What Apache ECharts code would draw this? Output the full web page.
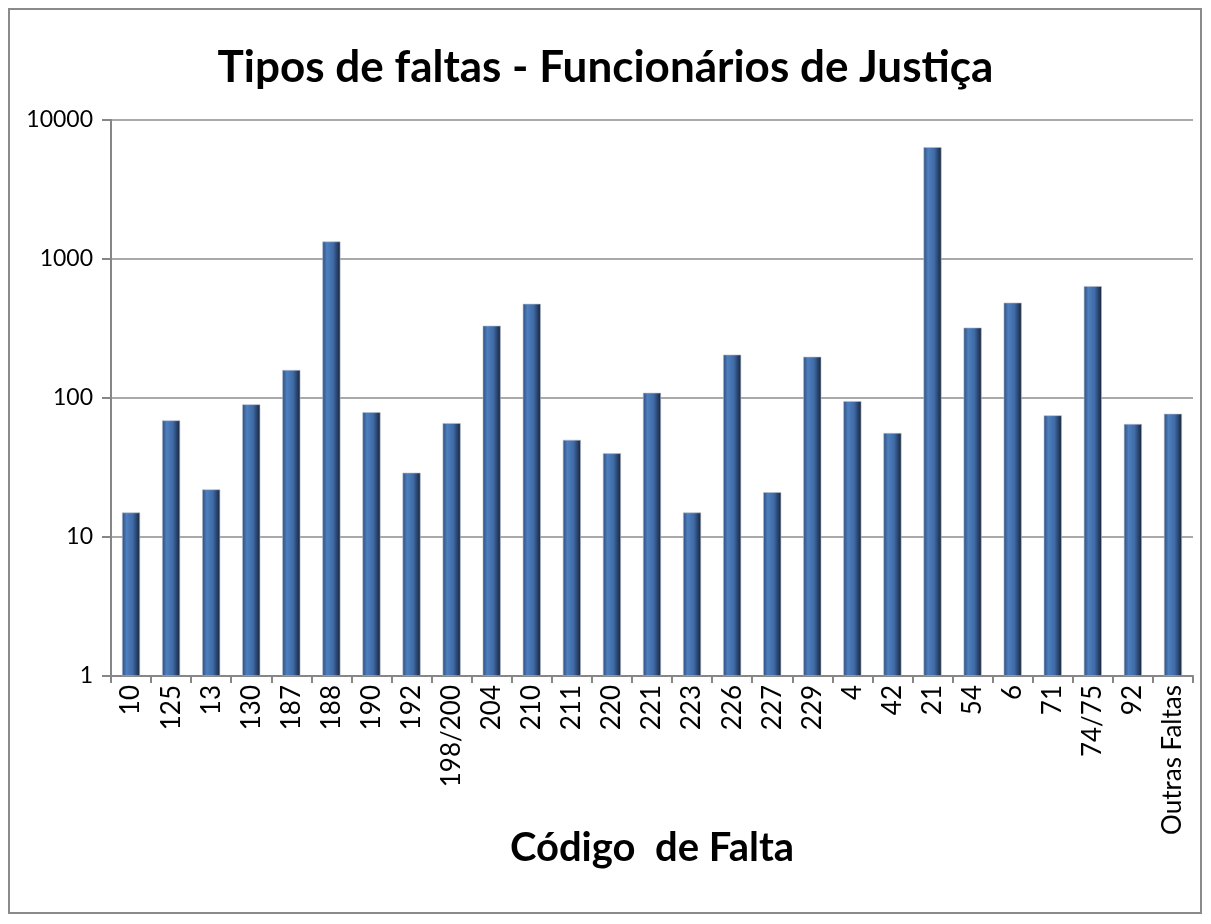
<!DOCTYPE html>
<head>
    <meta charset="UTF-8">
    <title>Tipos de faltas</title>
    <style>
        html, body { margin: 0; padding: 0; background: #fff; }
        #frame { position: absolute; left: 8px; top: 8px; width: 1194px; height: 906px; border: 2px solid #8a8a8a; box-sizing: border-box; }
        #main { position: absolute; left: 0; top: 0; width: 1211px; height: 924px; }
    </style>
</head>
<body>
<div id="frame"></div>
<div id="main"></div>
<script src="https://cdn.jsdelivr.net/npm/echarts@6/dist/echarts.min.js"></script>
<script type="text/javascript">
    var categories = ['10','125','13','130','187','188','190','192','198/200','204','210','211','220','221',
        '223','226','227','229','4','42','21','54','6','71','74/75','92','Outras Faltas'];
    var values = [15, 69, 22, 90, 159, 1336, 79, 29, 66, 331, 476, 50, 40, 109,
        15, 205, 21, 198, 95, 56, 6378, 321, 485, 75, 638, 65, 77];

    var myChart = echarts.init(document.getElementById('main'));
    var fontName = 'Lato';

    var barColor = new echarts.graphic.LinearGradient(0, 0, 1, 0, [
        {offset: 0, color: '#2c4d7c'},
        {offset: 0.25, color: '#4f7fbe'},
        {offset: 0.6, color: '#3f6ba6'},
        {offset: 0.8, color: '#2a4670'},
        {offset: 1, color: '#16233a'}
    ]);

    var option = {
        animation: false,
        title: {
            text: 'Tipos de faltas - Funcionários de Justiça',
            left: 'center',
            top: 41,
            textStyle: {
                fontFamily: fontName,
                fontWeight: 'bold',
                fontSize: 44,
                color: '#000'
            }
        },
        grid: {
            left: 111,
            right: 18,
            top: 120,
            bottom: 248,
            containLabel: false
        },
        xAxis: {
            type: 'category',
            data: categories,
            name: 'Código  de Falta',
            nameLocation: 'middle',
            nameGap: 152,
            nameMoveOverlap: false,
            nameTextStyle: {
                fontFamily: fontName,
                fontWeight: 'bold',
                fontSize: 40,
                color: '#000'
            },
            axisLine: {
                lineStyle: { color: '#868686', width: 2 }
            },
            axisTick: {
                show: true,
                alignWithLabel: false,
                length: 7,
                lineStyle: { color: '#868686', width: 2 }
            },
            axisLabel: {
                rotate: 90,
                interval: 0,
                margin: 9,
                fontFamily: fontName,
                fontSize: 26,
                color: '#000'
            }
        },
        yAxis: {
            type: 'log',
            logBase: 10,
            min: 1,
            max: 10000,
            axisLine: {
                show: true,
                lineStyle: { color: '#868686', width: 2 }
            },
            axisTick: {
                show: true,
                length: 9,
                lineStyle: { color: '#868686', width: 2 }
            },
            splitLine: {
                show: true,
                lineStyle: { color: '#8c8c8c', width: 1.5 }
            },
            axisLabel: {
                margin: 18,
                fontFamily: fontName,
                fontSize: 23,
                color: '#000',
                formatter: function (v) { return String(Math.round(v)); }
            }
        },
        series: [
            {
                type: 'bar',
                data: values,
                barWidth: 18,
                itemStyle: {
                    color: barColor,
                    borderColor: '#b5bccb',
                    borderWidth: 0.6
                }
            }
        ]
    };

    myChart.setOption(option);
</script>
</body>
